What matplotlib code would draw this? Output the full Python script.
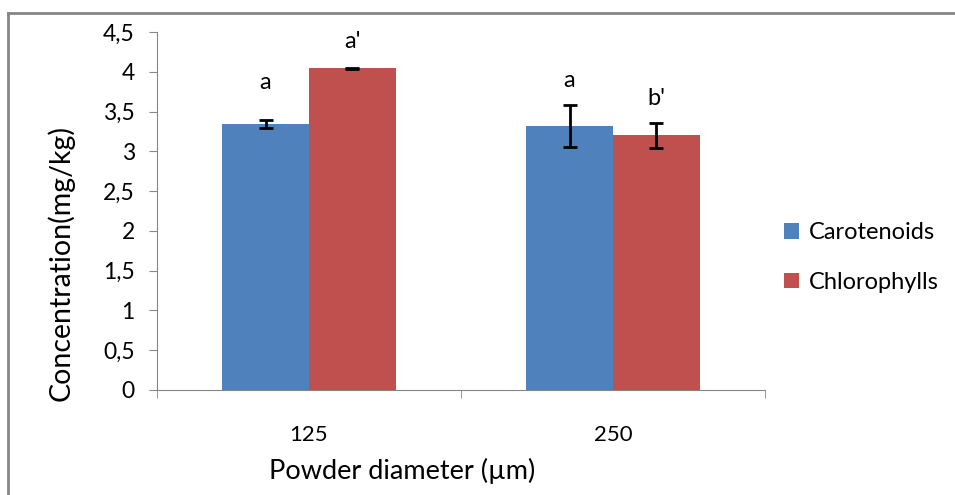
#!/usr/bin/env python3

import numpy as np
import matplotlib.pyplot as plt
from matplotlib.lines import Line2D

plt.rcParams['font.family'] = ['Lato', 'DejaVu Sans']

# Data
categories = ['125', '250']
carotenoids = [3.34, 3.32]
carotenoids_err = [0.05, 0.26]
chlorophylls = [4.045, 3.20]
chlorophylls_err = [0.005, 0.16]
carot_letters = ['a', 'a']
chloro_letters = ["a'", "b'"]
carot_letter_y = [3.86, 3.89]
chloro_letter_y = [4.38, 3.66]

BAR_WIDTH = 0.286
BLUE = '#4f81bd'
RED = '#c0504d'
AXIS_GREY = '#868686'

fig = plt.figure(figsize=(9.55, 4.95), dpi=100)
ax = fig.add_axes([157 / 955, 105 / 495, 608 / 955, 358 / 495])

x = np.arange(len(categories))
ax.bar(x - BAR_WIDTH / 2, carotenoids, BAR_WIDTH, color=BLUE, label='Carotenoids',
       yerr=carotenoids_err, error_kw=dict(ecolor='black', elinewidth=2, capsize=5, capthick=2))
ax.bar(x + BAR_WIDTH / 2, chlorophylls, BAR_WIDTH, color=RED, label='Chlorophylls',
       yerr=chlorophylls_err, error_kw=dict(ecolor='black', elinewidth=2, capsize=5, capthick=2))

for i in range(len(categories)):
    ax.text(x[i] - BAR_WIDTH / 2, carot_letter_y[i], carot_letters[i], ha='center', va='center', fontsize=17)
    ax.text(x[i] + BAR_WIDTH / 2, chloro_letter_y[i], chloro_letters[i], ha='center', va='center', fontsize=17)

ax.set_xlim(-0.5, 1.5)
ax.set_ylim(0, 4.5)
ax.set_yticks(np.arange(0, 4.51, 0.5))
ax.set_yticklabels([('%g' % v).replace('.', ',') for v in np.arange(0, 4.51, 0.5)])
ax.set_xticks(x)
ax.set_xticklabels(categories)
ax.set_xticks([-0.5, 0.5, 1.5], minor=True)
ax.tick_params(axis='x', which='major', length=0, pad=25, labelsize=16)
ax.tick_params(axis='x', which='minor', length=6, color=AXIS_GREY, direction='out')
ax.tick_params(axis='y', length=6, color=AXIS_GREY, direction='out', pad=10, labelsize=16.5)

for s in ['top', 'right']:
    ax.spines[s].set_visible(False)
for s in ['left', 'bottom']:
    ax.spines[s].set_color(AXIS_GREY)

# Excel centres the axis titles on the chart area, not the plot area
ax.set_ylabel('Concentration(mg/kg)', fontsize=20.5)
ax.yaxis.set_label_coords(-0.135, 0.354)
ax.set_xlabel('Powder diameter (\u00b5m)', fontsize=19.5)
ax.xaxis.set_label_coords(0.403, -0.19)

ax.legend(loc='center left', bbox_to_anchor=(1.012, 0.37), frameon=False, fontsize=17, borderpad=0,
          handlelength=0.65, handleheight=0.65, handletextpad=0.4, labelspacing=1.2)

# outer chart border (only top and left visible in the crop)
fig.add_artist(Line2D([8 / 955, 8 / 955], [0, 1 - 13 / 495], transform=fig.transFigure, color=AXIS_GREY, lw=2))
fig.add_artist(Line2D([8 / 955, 1], [1 - 13 / 495, 1 - 13 / 495], transform=fig.transFigure, color=AXIS_GREY, lw=2))

plt.savefig('out.png', dpi=100)
